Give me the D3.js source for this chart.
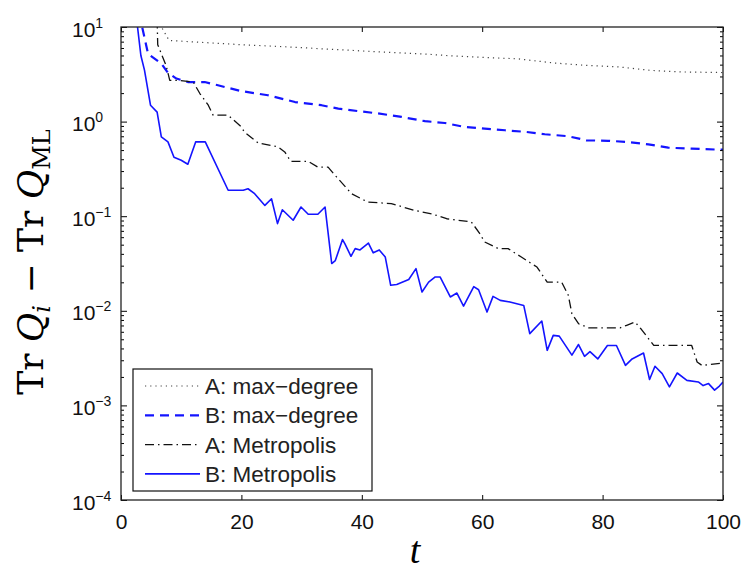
<!DOCTYPE html>
<html>
<head>
<meta charset="utf-8">
<script src="https://cdn.jsdelivr.net/npm/d3@7"></script>
<style>
    body { margin: 0; background: #fff; }
    svg { display: block; }
    .tick text { font-family: "Liberation Sans", Arial, sans-serif; }
</style>
</head>
<body>
<div id="chart"></div>
<script>
// A: max-degree (dotted)
const tAmax = [6, 8, 13, 20, 27, 33, 42, 50, 55, 61, 66, 72, 77, 83, 88, 93, 100];
const vAmax = [12, 7.2, 6.9, 6.5, 6.2, 5.9, 5.5, 5.2, 4.95, 4.75, 4.6, 4.16, 3.94, 3.77, 3.48, 3.35, 3.3];

// B: max-degree (dashed blue)
const tBmax = [3, 4.5, 6.7, 7.8, 9.2, 11.1, 13.9, 16.1, 20, 24.4, 28.9, 33.3, 36.1, 39.4, 42.7, 46.6,
    50.5, 53.8, 57.1, 60.4, 63.8, 67.1, 70.4, 74.3, 77.3, 80.9, 84.3, 87.6, 90.9, 94.8, 98.9, 100];
const vBmax = [14, 5.2, 4.1, 3.27, 2.85, 2.62, 2.62, 2.42, 2.1, 1.9, 1.61, 1.49, 1.37, 1.29, 1.22, 1.12,
    1.01, 0.967, 0.877, 0.843, 0.81, 0.78, 0.735, 0.70, 0.634, 0.627, 0.608, 0.575, 0.53, 0.518, 0.506, 0.505];

// A: Metropolis (dash-dot)
const tAmet = [6, 6.1, 7.5, 8.1, 9.5, 12, 13.1, 14.5, 15.3, 17.8, 20, 20.5, 22.8, 26.1, 27.2, 28.2,
    31.1, 32.7, 34.4, 35.8, 38.3, 41, 44.9, 48.8, 51.6, 54.1, 58.2, 59.6, 60.4, 62.7, 64.3, 66.5,
    69.1, 70.8, 73.2, 74.3, 74.9, 76, 77.7, 82.9, 84, 85.4, 86.5, 88.5, 94.8, 95.7, 96.5, 100];
const vAmet = [12, 6.5, 3.9, 2.73, 2.73, 2.62, 1.98, 1.49, 1.17, 1.17, 0.877, 0.776, 0.594, 0.54, 0.478, 0.38,
    0.38, 0.33, 0.33, 0.26, 0.173, 0.141, 0.136, 0.115, 0.106, 0.094, 0.087, 0.0655, 0.0534, 0.0454, 0.0454, 0.037,
    0.029, 0.0201, 0.0201, 0.0146, 0.0093, 0.0073, 0.0066, 0.0066, 0.00703, 0.0076, 0.0063, 0.0043, 0.0043, 0.00288, 0.00265, 0.0028];

// B: Metropolis (solid blue)
const tBmet = [2.6, 3.3, 3.9, 4.9, 6.0, 6.7, 7.8, 8.8, 10, 11.1, 12.4, 14, 17.8, 20.3, 21.1, 22.2,
    23.9, 25, 26, 26.8, 28.6, 29.9, 31.1, 32.7, 33.9, 35, 35.6, 36.8, 37.2, 38.2, 38.9, 39.7,
    41.1, 41.9, 42.9, 43.9, 44.8, 45.8, 47.8, 49, 50, 51.1, 52.2, 53, 54.7, 55.8, 56.9, 58.6,
    59.4, 60.8, 61.8, 63, 64.6, 66.9, 67.9, 69.9, 70.8, 71.8, 72.8, 74.9, 76, 77, 77.9, 79.2,
    80.8, 82.3, 83.8, 84.9, 86.8, 87.8, 88.7, 89.9, 91.1, 92.4, 94, 95.9, 96.7, 97.6, 98.6, 99.4, 100];
const vBmet = [12, 5.0, 3.5, 1.49, 1.26, 0.69, 0.61, 0.42, 0.39, 0.354, 0.61, 0.61, 0.188, 0.188, 0.195, 0.173,
    0.13, 0.153, 0.0835, 0.117, 0.0906, 0.125, 0.105, 0.105, 0.125, 0.0316, 0.034, 0.0566, 0.051, 0.0377, 0.0454, 0.044,
    0.052, 0.041, 0.044, 0.037, 0.0186, 0.019, 0.0214, 0.0279, 0.0158, 0.0201, 0.0228, 0.0228, 0.014, 0.0154, 0.0112, 0.018,
    0.0167, 0.0097, 0.0142, 0.0129, 0.0124, 0.0114, 0.00574, 0.0078, 0.00382, 0.0055, 0.0054, 0.0034, 0.0044, 0.0033, 0.0037, 0.0031,
    0.0043, 0.0043, 0.00265, 0.0031, 0.00358, 0.00188, 0.00259, 0.00217, 0.00157, 0.0022, 0.00184, 0.00177, 0.00162, 0.0017, 0.00145, 0.0016, 0.00177];

const xTicks = [0, 20, 40, 60, 80, 100];
const yTicks = [1e-4, 1e-3, 1e-2, 1e-1, 1e0, 1e1];
const legendLabels = ["A: max\u2212degree", "B: max\u2212degree", "A: Metropolis", "B: Metropolis"];

const width = 749, height = 570;
const margin = { top: 27, right: 26, bottom: 70, left: 121 };
const innerW = width - margin.left - margin.right;
const innerH = height - margin.top - margin.bottom;

const svg = d3.select("#chart").append("svg")
    .attr("width", width)
    .attr("height", height);

const g = svg.append("g")
    .attr("transform", `translate(${margin.left},${margin.top})`);

const x = d3.scaleLinear().domain([0, 100]).range([0, innerW]);
const y = d3.scaleLog().domain([1e-4, 10]).range([innerH, 0]);

// minor log ticks
let minor = [];
yTicks.slice(0, -1).forEach(d => { for (let k = 2; k <= 9; k++) minor.push(d * k); });

g.append("clipPath").attr("id", "clip")
    .append("rect").attr("width", innerW).attr("height", innerH);

// series
const series = [
    { t: tAmax, v: vAmax, color: "#444", w: 1.2, dash: "1.2,4" },
    { t: tBmax, v: vBmax, color: "#1414ff", w: 2.2, dash: "9,6" },
    { t: tAmet, v: vAmet, color: "#111", w: 1.3, dash: "9,4,1.5,4" },
    { t: tBmet, v: vBmet, color: "#1414ff", w: 1.6, dash: null }
];

const line = d3.line()
    .x(d => x(d[0]))
    .y(d => y(d[1]));

const plot = g.append("g").attr("clip-path", "url(#clip)");
series.forEach(s => {
    plot.append("path")
        .datum(d3.zip(s.t, s.v))
        .attr("fill", "none")
        .attr("stroke", s.color)
        .attr("stroke-width", s.w)
        .attr("stroke-dasharray", s.dash)
        .attr("stroke-linejoin", "round")
        .attr("d", line);
});

// axes, matlab style box with inward ticks
g.append("g")
    .attr("transform", `translate(0,${innerH})`)
    .call(d3.axisBottom(x).tickValues(xTicks).tickSizeInner(-5).tickSizeOuter(0).tickPadding(14))
    .call(a => a.selectAll("text").attr("font-size", 21).attr("fill", "#111"));

g.append("g")
    .call(d3.axisTop(x).tickValues(xTicks).tickSizeInner(-5).tickSizeOuter(0).tickFormat(""));

g.append("g")
    .call(d3.axisLeft(y).tickValues(minor).tickSizeInner(-3).tickSizeOuter(0).tickFormat(""));
g.append("g")
    .attr("transform", `translate(${innerW},0)`)
    .call(d3.axisRight(y).tickValues(minor).tickSizeInner(-3).tickSizeOuter(0).tickFormat(""));
g.append("g")
    .attr("transform", `translate(${innerW},0)`)
    .call(d3.axisRight(y).tickValues(yTicks).tickSizeInner(-6).tickSizeOuter(0).tickFormat(""));

const yAxis = g.append("g")
    .call(d3.axisLeft(y).tickValues(yTicks).tickSizeInner(-6).tickSizeOuter(0).tickFormat(""));

// y tick labels as 10 with superscript exponent
yAxis.selectAll(".tick").append("text")
    .attr("x", -49)
    .attr("y", 9)
    .attr("text-anchor", "start")
    .attr("fill", "#111")
    .attr("font-size", 21)
    .each(function(d) {
        let t = d3.select(this);
        let e = Math.round(Math.log10(d));
        t.append("tspan").text("10");
        t.append("tspan")
            .attr("dy", -9)
            .attr("font-size", 14)
            .text(e < 0 ? "\u2212" + (-e) : String(e));
    });

g.selectAll(".domain").remove();

g.append("rect")
    .attr("width", innerW)
    .attr("height", innerH)
    .attr("fill", "none")
    .attr("stroke", "#222")
    .attr("stroke-width", 1.3);

// legend
const legend = g.append("g").attr("transform", "translate(12,342)");
legend.append("rect")
    .attr("width", 239)
    .attr("height", 122)
    .attr("fill", "#fff")
    .attr("stroke", "#111")
    .attr("stroke-width", 1.2);

legendLabels.forEach((lab, i) => {
    let s = series[i];
    let ly = 17 + i * 29.3;
    legend.append("line")
        .attr("x1", 12).attr("x2", 67)
        .attr("y1", ly).attr("y2", ly)
        .attr("stroke", s.color)
        .attr("stroke-width", s.w)
        .attr("stroke-dasharray", s.dash);
    legend.append("text")
        .attr("x", 72)
        .attr("y", ly + 8)
        .attr("font-family", "Liberation Sans, Arial, sans-serif")
        .attr("font-size", 22.5)
        .attr("fill", "#222")
        .text(lab);
});

// axis labels
svg.append("text")
    .attr("x", 415)
    .attr("y", 563)
    .attr("text-anchor", "middle")
    .attr("font-family", "Liberation Serif, serif")
    .attr("font-style", "italic")
    .attr("font-size", 38)
    .text("t");

const ylab = svg.append("text")
    .attr("transform", "translate(43,262) rotate(-90)")
    .attr("text-anchor", "middle")
    .attr("font-family", "DejaVu Serif, serif")
    .attr("font-size", 36);
ylab.append("tspan").text("Tr ");
ylab.append("tspan").attr("font-style", "italic").text("Q");
ylab.append("tspan").attr("font-style", "italic").attr("font-size", 24).attr("dy", 7).text("i");
ylab.append("tspan").attr("dy", -7).text(" \u2212 Tr ");
ylab.append("tspan").attr("font-style", "italic").text("Q");
ylab.append("tspan").attr("font-size", 24).attr("dy", 7).text("ML");
</script>
</body>
</html>
